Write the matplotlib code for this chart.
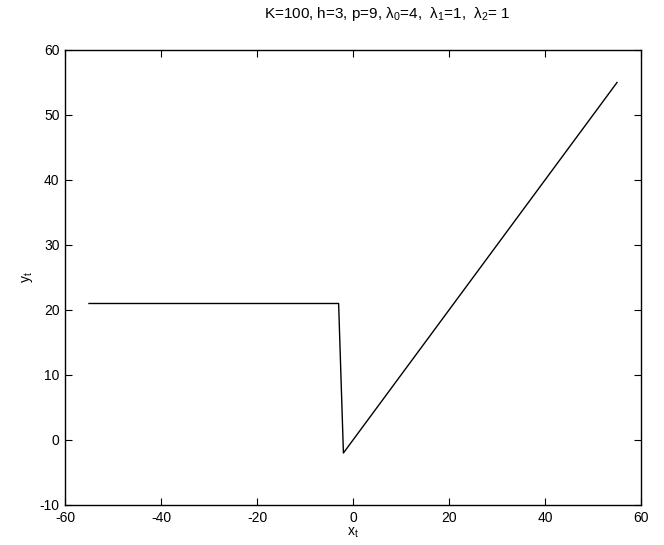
import numpy as np
import matplotlib.pyplot as plt

plt.rcParams['font.family'] = ['Liberation Sans', 'DejaVu Sans']
plt.rcParams['mathtext.fontset'] = 'custom'
plt.rcParams['mathtext.rm'] = 'Liberation Sans'
plt.rcParams['mathtext.it'] = 'Liberation Sans'
plt.rcParams['axes.unicode_minus'] = False

# data
xt = [-55, -3, -2, 55]
yt = [21, 21, -2, 55]

fig = plt.figure(figsize=(6.64, 5.45), dpi=100)
ax = fig.add_axes([0.0979, 0.0734, 0.8675, 0.8349])

ax.plot(xt, yt, color='k', linewidth=1.0)

ax.set_xlim(-60, 60)
ax.set_ylim(-10, 60)
ax.set_xticks(np.arange(-60, 61, 20))
ax.set_yticks(np.arange(-10, 61, 10))
ax.tick_params(direction='in', length=5, width=0.8, labelsize=10,
               top=True, right=True, pad=4)
for s in ax.spines.values():
    s.set_linewidth(1.0)

ax.set_xlabel('x$_\\mathregular{t}$', fontsize=10, labelpad=1)
ax.set_ylabel('y$_\\mathregular{t}$', fontsize=10, labelpad=3)

fig.text(387 / 664, 1 - 14 / 545,
         'K=100, h=3, p=9, $\\lambda_0$=4,  $\\lambda_1$=1,  $\\lambda_2$= 1',
         ha='center', va='center', fontsize=11)

fig.savefig('out.png', dpi=100)
